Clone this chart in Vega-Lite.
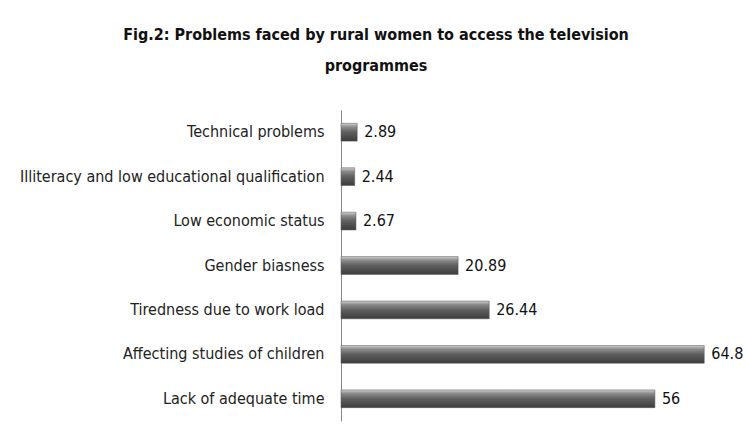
{
  "$schema": "https://vega.github.io/schema/vega-lite/v6.json",
  "width": 398,
  "height": 311,
  "autosize": {"type": "none"},
  "padding": {"left": 341, "top": 110, "right": 7, "bottom": 10},
  "background": "white",
  "title": {
    "text": ["Fig.2: Problems faced by rural women to access the television", "programmes"],
    "font": "DejaVu Sans Condensed, Liberation Sans, sans-serif",
    "fontSize": 16,
    "fontWeight": "bold",
    "color": "#111111",
    "anchor": "middle",
    "frame": "group",
    "dx": -164,
    "offset": 36,
    "lineHeight": 31
  },
  "data": {
    "values": [
      {"problem": "Technical problems", "value": 2.89},
      {"problem": "Illiteracy and low educational qualification", "value": 2.44},
      {"problem": "Low economic status", "value": 2.67},
      {"problem": "Gender biasness", "value": 20.89},
      {"problem": "Tiredness due to work load", "value": 26.44},
      {"problem": "Affecting studies of children", "value": 64.8},
      {"problem": "Lack of adequate time", "value": 56}
    ]
  },
  "encoding": {
    "y": {
      "field": "problem",
      "type": "nominal",
      "sort": null,
      "scale": {"paddingInner": 0.6, "paddingOuter": 0.3},
      "axis": {
        "title": null,
        "ticks": false,
        "labelPadding": 17,
        "labelFont": "DejaVu Sans Condensed, Liberation Sans, sans-serif",
        "labelFontSize": 16,
        "labelColor": "#222222",
        "labelLimit": 340,
        "domainColor": "#888888",
        "domainWidth": 1
      }
    },
    "x": {
      "field": "value",
      "type": "quantitative",
      "scale": {"domain": [0, 71], "nice": false},
      "axis": null
    }
  },
  "layer": [
    {
      "mark": {
        "type": "bar",
        "color": {
          "gradient": "linear",
          "x1": 0, "y1": 0, "x2": 0, "y2": 1,
          "stops": [
            {"offset": 0, "color": "#d0d0d0"},
            {"offset": 0.2, "color": "#8c8c8c"},
            {"offset": 0.5, "color": "#5f5f5f"},
            {"offset": 1, "color": "#3c3c3c"}
          ]
        },
        "stroke": "#555555",
        "strokeWidth": 0.5
      }
    },
    {
      "mark": {
        "type": "text",
        "align": "left",
        "baseline": "middle",
        "dx": 7,
        "font": "DejaVu Sans Condensed, Liberation Sans, sans-serif",
        "fontSize": 16,
        "color": "#111111"
      },
      "encoding": {
        "text": {"field": "value", "type": "quantitative"}
      }
    }
  ],
  "config": {"view": {"stroke": null}}
}
